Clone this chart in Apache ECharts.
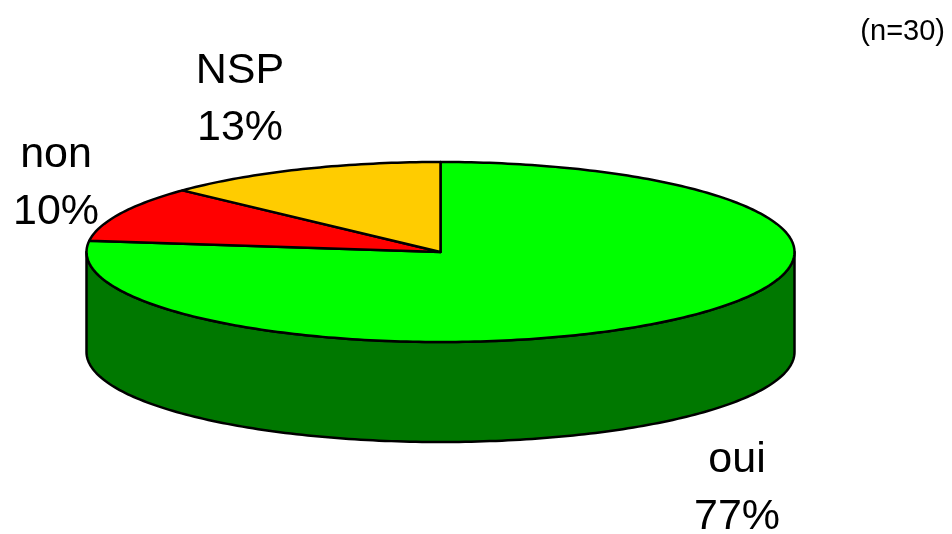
<!DOCTYPE html>
<html>
<head>
<meta charset="utf-8">
<script src="https://cdn.jsdelivr.net/npm/echarts@6/dist/echarts.min.js"></script>
<style>
  html, body { margin: 0; padding: 0; background: #ffffff; }
  #chart { width: 952px; height: 534px; }
</style>
</head>
<body>
<div id="chart"></div>
<script>
// Survey answers (n = 30), shares in percent
const categories = ['oui', 'non', 'NSP'];
const shares = [77, 10, 13];
const sampleNote = '(n=30)';

// Slice colours: top face and side wall
const topColors = ['#00FF00', '#FF0000', '#FFCC00'];
const sideColors = ['#007800', '#800000', '#806600'];

// Layout of the tilted disc
const disc = { cx: 440.5, cy: 252, rx: 354, ry: 90, depth: 100 };
const labelFont = '43px "Liberation Sans", Arial, sans-serif';
const labelPos = [[737, 489], [56, 184], [240, 100]];

const total = shares.reduce((a, b) => a + b, 0);
let acc = 0;
const sliceData = shares.map((v, i) => {
  const item = { name: categories[i], value: [v, acc] };
  acc += v;
  return item;
});

// Point on the rim; angle measured clockwise from 12 o'clock
function rim(theta, dy) {
  return [disc.cx + disc.rx * Math.sin(theta), disc.cy - disc.ry * Math.cos(theta) + (dy || 0)];
}
function arcPoints(a0, a1, dy) {
  const pts = [];
  const n = Math.max(2, Math.ceil((a1 - a0) / (Math.PI / 180)));
  for (let k = 0; k <= n; k++) pts.push(rim(a0 + (a1 - a0) * k / n, dy));
  return pts;
}
function sliceAngles(api) {
  const v = api.value(0), start = api.value(1);
  return [start / total * 2 * Math.PI, (start + v) / total * 2 * Math.PI];
}

function renderSide(params, api) {
  const [a0, a1] = sliceAngles(api);
  const lo = Math.max(a0, Math.PI / 2), hi = Math.min(a1, 3 * Math.PI / 2);
  if (hi <= lo) return null;
  const topEdge = arcPoints(lo, hi, 0);
  const bottomEdge = arcPoints(lo, hi, disc.depth).reverse();
  return {
    type: 'polygon',
    shape: { points: topEdge.concat(bottomEdge) },
    style: { fill: sideColors[params.dataIndex], stroke: '#000', lineWidth: 2.5, lineJoin: 'round' }
  };
}

function renderTop(params, api) {
  const [a0, a1] = sliceAngles(api);
  const pts = [[disc.cx, disc.cy]].concat(arcPoints(a0, a1, 0));
  return {
    type: 'polygon',
    shape: { points: pts },
    style: { fill: topColors[params.dataIndex], stroke: '#000', lineWidth: 2.5, lineJoin: 'round' }
  };
}

const labels = categories.map((c, i) => ({
  type: 'text',
  x: labelPos[i][0],
  y: labelPos[i][1],
  style: {
    text: c + '\n' + shares[i] + '%',
    font: labelFont,
    lineHeight: 57,
    fill: '#000',
    textAlign: 'center',
    textVerticalAlign: 'middle'
  }
}));
labels.push({
  type: 'text',
  x: 945,
  y: 32,
  style: {
    text: sampleNote,
    font: '29px "Liberation Sans", Arial, sans-serif',
    fill: '#000',
    textAlign: 'right',
    textVerticalAlign: 'middle'
  }
});

const chart = echarts.init(document.getElementById('chart'), null, { renderer: 'canvas' });
chart.setOption({
  animation: false,
  backgroundColor: '#ffffff',
  series: [
    { type: 'custom', name: 'side', coordinateSystem: 'none', z: 1, renderItem: renderSide, data: sliceData },
    { type: 'custom', name: 'top', coordinateSystem: 'none', z: 2, renderItem: renderTop, data: sliceData }
  ],
  graphic: labels
});
</script>
</body>
</html>
